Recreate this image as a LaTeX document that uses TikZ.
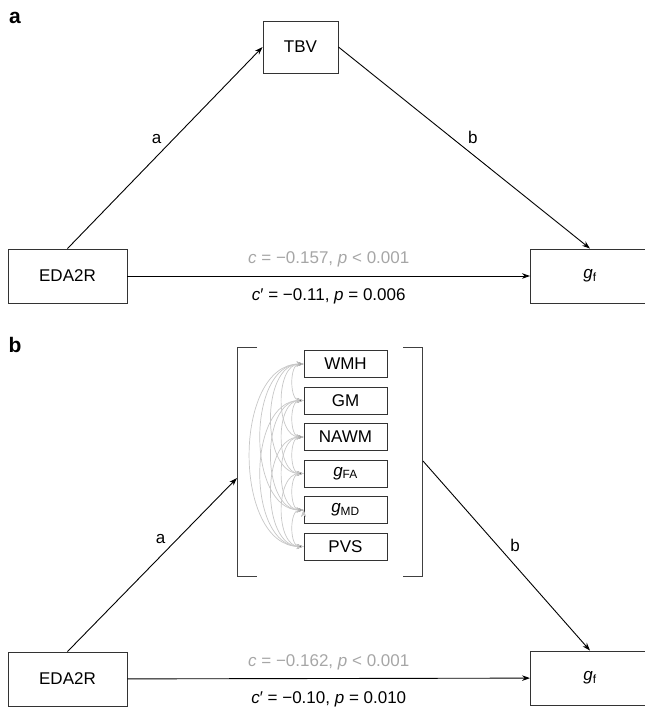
\documentclass[tikz,border=0pt]{standalone}
\usepackage{fontspec}
\setmainfont{Liberation Sans}
\usetikzlibrary{arrows.meta}
\newcommand{\gsub}[1]{\textit{g}\textsubscript{#1}}

\begin{document}
\begin{tikzpicture}[x=1pt,y=-1pt,auto,line width=0.9pt,
    >={Stealth[length=8pt,width=5.5pt]},
    every node/.style={font=\fontsize{17}{20}\selectfont},
    var/.style={draw=black!80,rectangle,inner sep=0pt},
    big/.style={var,minimum width=119pt,minimum height=54pt},
    obs/.style={var,minimum width=83pt,minimum height=27pt},
    panel/.style={font=\fontsize{21}{24}\selectfont\bfseries},
    bracket/.style={draw=black!75,line width=1pt},
    cov/.style={draw=black!22,line width=0.7pt,{Stealth[length=7pt,width=5pt]}-{Stealth[length=7pt,width=5pt]},out=180,in=180}]
                \useasboundingbox (0,0) rectangle (645,707);

                % panel a
                \node[panel] at (15,18) (pa) {a};
                \node[var,minimum width=75pt,minimum height=52pt] at (300.5,47) (tbv) {TBV};
                \node[big] at (67.5,276) (edaa) {EDA2R};
                \node[big] at (590,276) (gfa) {\gsub{f}};

                \path[->]
					(edaa.north) edge node {a} (tbv.west)
					(tbv.east) edge node {b} (gfa.north)
					(edaa) edge node [above=5pt,text=black!35] {\textit{c} = −0.157, \textit{p} < 0.001}
					            node [below=9pt] {\textit{c}′ = −0.11, \textit{p} = 0.006} (gfa)
                    ;

                % panel b
                \node[panel] at (15,345) (pb) {b};
                \node[obs] at (345.5,364) (wmh) {WMH};
                \node[obs] at (345.5,400.5) (gm) {GM};
                \node[obs] at (345.5,437) (nawm) {NAWM};
                \node[obs] at (345.5,473.5) (gfab) {\gsub{FA}};
                \node[obs] at (345.5,510) (gmd) {\gsub{MD}};
                \node[obs] at (345.5,546.5) (pvs) {PVS};

                \draw[bracket] (257,347) -- (237,347) -- (237,576) -- (257,576);
                \draw[bracket] (403,347) -- (422,347) -- (422,576) -- (403,576);
                \coordinate (brl) at (237,478);
                \coordinate (brr) at (423,461);

                \path[cov]
					(wmh.west) edge (gm.west)
					(wmh.west) edge (nawm.west)
					(wmh.west) edge (gfab.west)
					(wmh.west) edge (gmd.west)
					(wmh.west) edge (pvs.west)
					(gm.west) edge (nawm.west)
					(gm.west) edge (gfab.west)
					(gm.west) edge (gmd.west)
					(gm.west) edge (pvs.west)
					(nawm.west) edge (gfab.west)
					(nawm.west) edge (gmd.west)
					(nawm.west) edge (pvs.west)
					(gfab.west) edge (gmd.west)
					(gfab.west) edge (pvs.west)
					(gmd.west) edge (pvs.west)
                    ;

                \node[big] at (67.5,679) (edab) {EDA2R};
                \node[big] at (590,678) (gfb) {\gsub{f}};

                \path[->]
					(edab.north) edge node [pos=0.6] {a} (brl)
					(brr) edge node {b} (gfb.north)
					(edab) edge node [above=5pt,text=black!35] {\textit{c} = −0.162, \textit{p} < 0.001}
					            node [below=9pt] {\textit{c}′ = −0.10, \textit{p} = 0.010} (gfb)
                    ;
            \end{tikzpicture}
\end{document}
